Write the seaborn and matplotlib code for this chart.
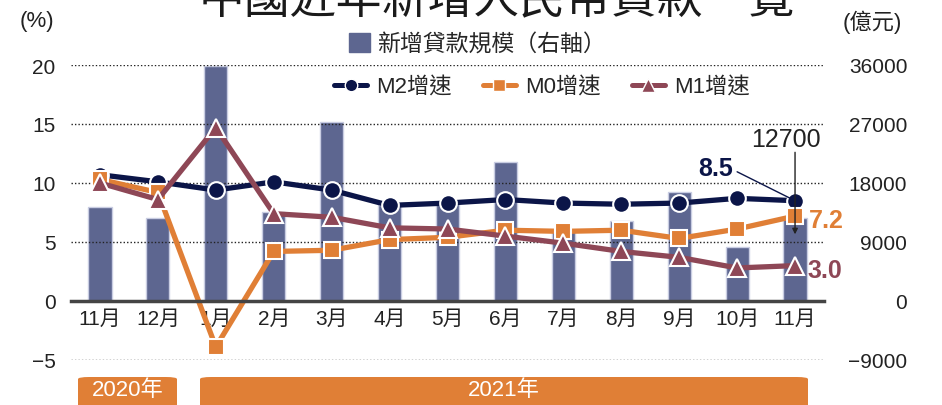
import matplotlib
matplotlib.use('Agg')
import matplotlib.pyplot as plt
import seaborn as sns
import pandas as pd
from matplotlib.patches import FancyBboxPatch, Patch
from matplotlib.lines import Line2D

periods = ['2020-11', '2020-12', '2021-01', '2021-02', '2021-03', '2021-04', '2021-05',
           '2021-06', '2021-07', '2021-08', '2021-09', '2021-10', '2021-11']
month_labels = ['11月', '12月', '1月', '2月', '3月', '4月', '5月',
                '6月', '7月', '8月', '9月', '10月', '11月']
new_loans = [14300, 12600, 35800, 13600, 27300, 14700, 15000, 21200, 10800, 12200, 16600, 8262, 12700]
m2 = [10.7, 10.1, 9.4, 10.1, 9.4, 8.1, 8.3, 8.6, 8.3, 8.2, 8.3, 8.7, 8.5]
m0 = [10.3, 9.2, -3.9, 4.2, 4.3, 5.2, 5.4, 6.0, 5.9, 6.0, 5.3, 6.1, 7.2]
m1 = [10.0, 8.6, 14.7, 7.4, 7.1, 6.2, 6.1, 5.5, 4.9, 4.2, 3.7, 2.8, 3.0]

NAVY = '#0b1548'
ORANGE = '#e07f36'
MAROON = '#8e4756'
BAR = '#5d6690'
INK = '#222222'

sns.set_theme(style='white')
plt.rcParams['font.family'] = ['Liberation Sans', 'Noto Sans CJK TC', 'DejaVu Sans']
plt.rcParams['axes.unicode_minus'] = True

fig = plt.figure(figsize=(9.42, 4.06), dpi=100)
ax = fig.add_axes([71 / 942, 1 - 361 / 406, 753 / 942, 295 / 406])
ax2 = ax.twinx()

df = pd.DataFrame({'period': periods, 'loans': new_loans})
sns.barplot(data=df, x='period', y='loans', ax=ax2, color=BAR, saturation=1,
            width=0.4, edgecolor='#c9cde2', linewidth=1)

idx = list(range(len(periods)))
sns.lineplot(x=idx, y=m2, ax=ax, color=NAVY, lw=3.8, marker='o', markersize=12,
             markeredgecolor='white', markeredgewidth=1.5)
sns.lineplot(x=idx, y=m0, ax=ax, color=ORANGE, lw=3.8, marker='s', markersize=11,
             markeredgecolor='white', markeredgewidth=1.5)
sns.lineplot(x=idx, y=m1, ax=ax, color=MAROON, lw=3.8, marker='^', markersize=13,
             markeredgecolor='white', markeredgewidth=1.5)

ax.set_zorder(ax2.get_zorder() + 1)
ax.patch.set_visible(False)

ax.set_xlim(-0.5, 12.5)
ax.set_ylim(-5, 20)
ax2.set_ylim(-9000, 36000)
ax.set_yticks([-5, 0, 5, 10, 15, 20])
ax.set_yticklabels(['−5', '0', '5', '10', '15', '20'])
ax2.set_yticks([-9000, 0, 9000, 18000, 27000, 36000])
ax2.set_yticklabels(['−9000', '0', '9000', '18000', '27000', '36000'])
ax.set_xticks(idx)
ax.set_xticklabels(month_labels)
ax.set_xlabel('')
ax.set_ylabel('')
ax2.set_xlabel('')
ax2.set_ylabel('')

for a in (ax, ax2):
    for s in a.spines.values():
        s.set_visible(False)
    a.grid(False)
ax.spines['bottom'].set_visible(True)
ax.spines['bottom'].set_position(('data', 0))
ax.spines['bottom'].set_color('#444444')
ax.spines['bottom'].set_linewidth(2.5)

for yv in [-5, 5, 10, 15, 20]:
    ax.axhline(yv, color=INK, lw=1.0, ls=(0, (1, 1.5)), zorder=0)

ax.tick_params(axis='y', length=0, pad=11, labelsize=15, colors=INK)
ax.tick_params(axis='x', length=0, pad=6, labelsize=15, colors=INK)
ax2.tick_params(axis='y', length=0, pad=60, labelsize=15, colors=INK)
for t in ax2.get_yticklabels():
    t.set_horizontalalignment('right')

# legends
bar_leg = ax.legend(handles=[Patch(facecolor=BAR, edgecolor=BAR)], labels=['新增貸款規模（右軸）'],
                    loc='center', bbox_to_anchor=(0.54, 1.072), frameon=False,
                    fontsize=16.5, handlelength=0.9, handleheight=0.9, handletextpad=0.3,
                    borderpad=0)
ax.add_artist(bar_leg)
line_handles = [
    Line2D([], [], color=NAVY, lw=3.6, marker='o', markersize=9, markeredgecolor='white'),
    Line2D([], [], color=ORANGE, lw=3.6, marker='s', markersize=8, markeredgecolor='white'),
    Line2D([], [], color=MAROON, lw=3.6, marker='^', markersize=10, markeredgecolor='white'),
]
ax.legend(handles=line_handles, labels=['M2增速', 'M0增速', 'M1增速'], loc='center',
          bbox_to_anchor=(0.625, 0.925), ncol=3, frameon=False, fontsize=16,
          handlelength=1.5, handletextpad=0.4, columnspacing=1.4, borderpad=0)

# annotations
ax.annotate('', xy=(12.0, 5.65), xytext=(12.0, 12.6), zorder=10,
            arrowprops=dict(arrowstyle='-|>', color=INK, lw=1, mutation_scale=8,
                            shrinkA=0, shrinkB=0))
ax.text(11.85, 13.75, '12700', ha='center', va='center', fontsize=18, color=INK)
ax.plot([11.0, 12.0], [10.95, 8.5], color=NAVY, lw=1)
ax.text(10.63, 11.3, '8.5', ha='center', va='center', fontsize=18, fontweight='bold', color=NAVY)
ax.text(12.24, 6.9, '7.2', ha='left', va='center', fontsize=18, fontweight='bold', color=ORANGE)
ax.text(12.22, 2.6, '3.0', ha='left', va='center', fontsize=18, fontweight='bold', color=MAROON)

# unit labels and title
fig.text(37 / 942, 1 - 22 / 406, '(%)', ha='center', va='center', fontsize=16, color=INK)
fig.text(872 / 942, 1 - 22 / 406, '(億元)', ha='center', va='center', fontsize=16, color=INK)
fig.text(497 / 942, 1 - 1 / 406, '中國近年新增人民幣貸款一覽', ha='center', va='center',
         fontsize=33, color='#1a1a1a')

# year bands
for x0, x1, label in [(78, 177, '2020年'), (200, 808, '2021年')]:
    box = FancyBboxPatch((x0 / 942, -0.05), (x1 - x0) / 942, (406 - 378) / 406 + 0.05,
                         boxstyle='round,pad=0,rounding_size=0.012', transform=fig.transFigure,
                         facecolor=ORANGE, edgecolor='none', mutation_aspect=406 / 942)
    fig.patches.append(box)
    fig.text((x0 + x1) / 2 / 942, 1 - 391 / 406, label, ha='center', va='center',
             fontsize=16, color='white')

fig.savefig('out.png', dpi=100)
